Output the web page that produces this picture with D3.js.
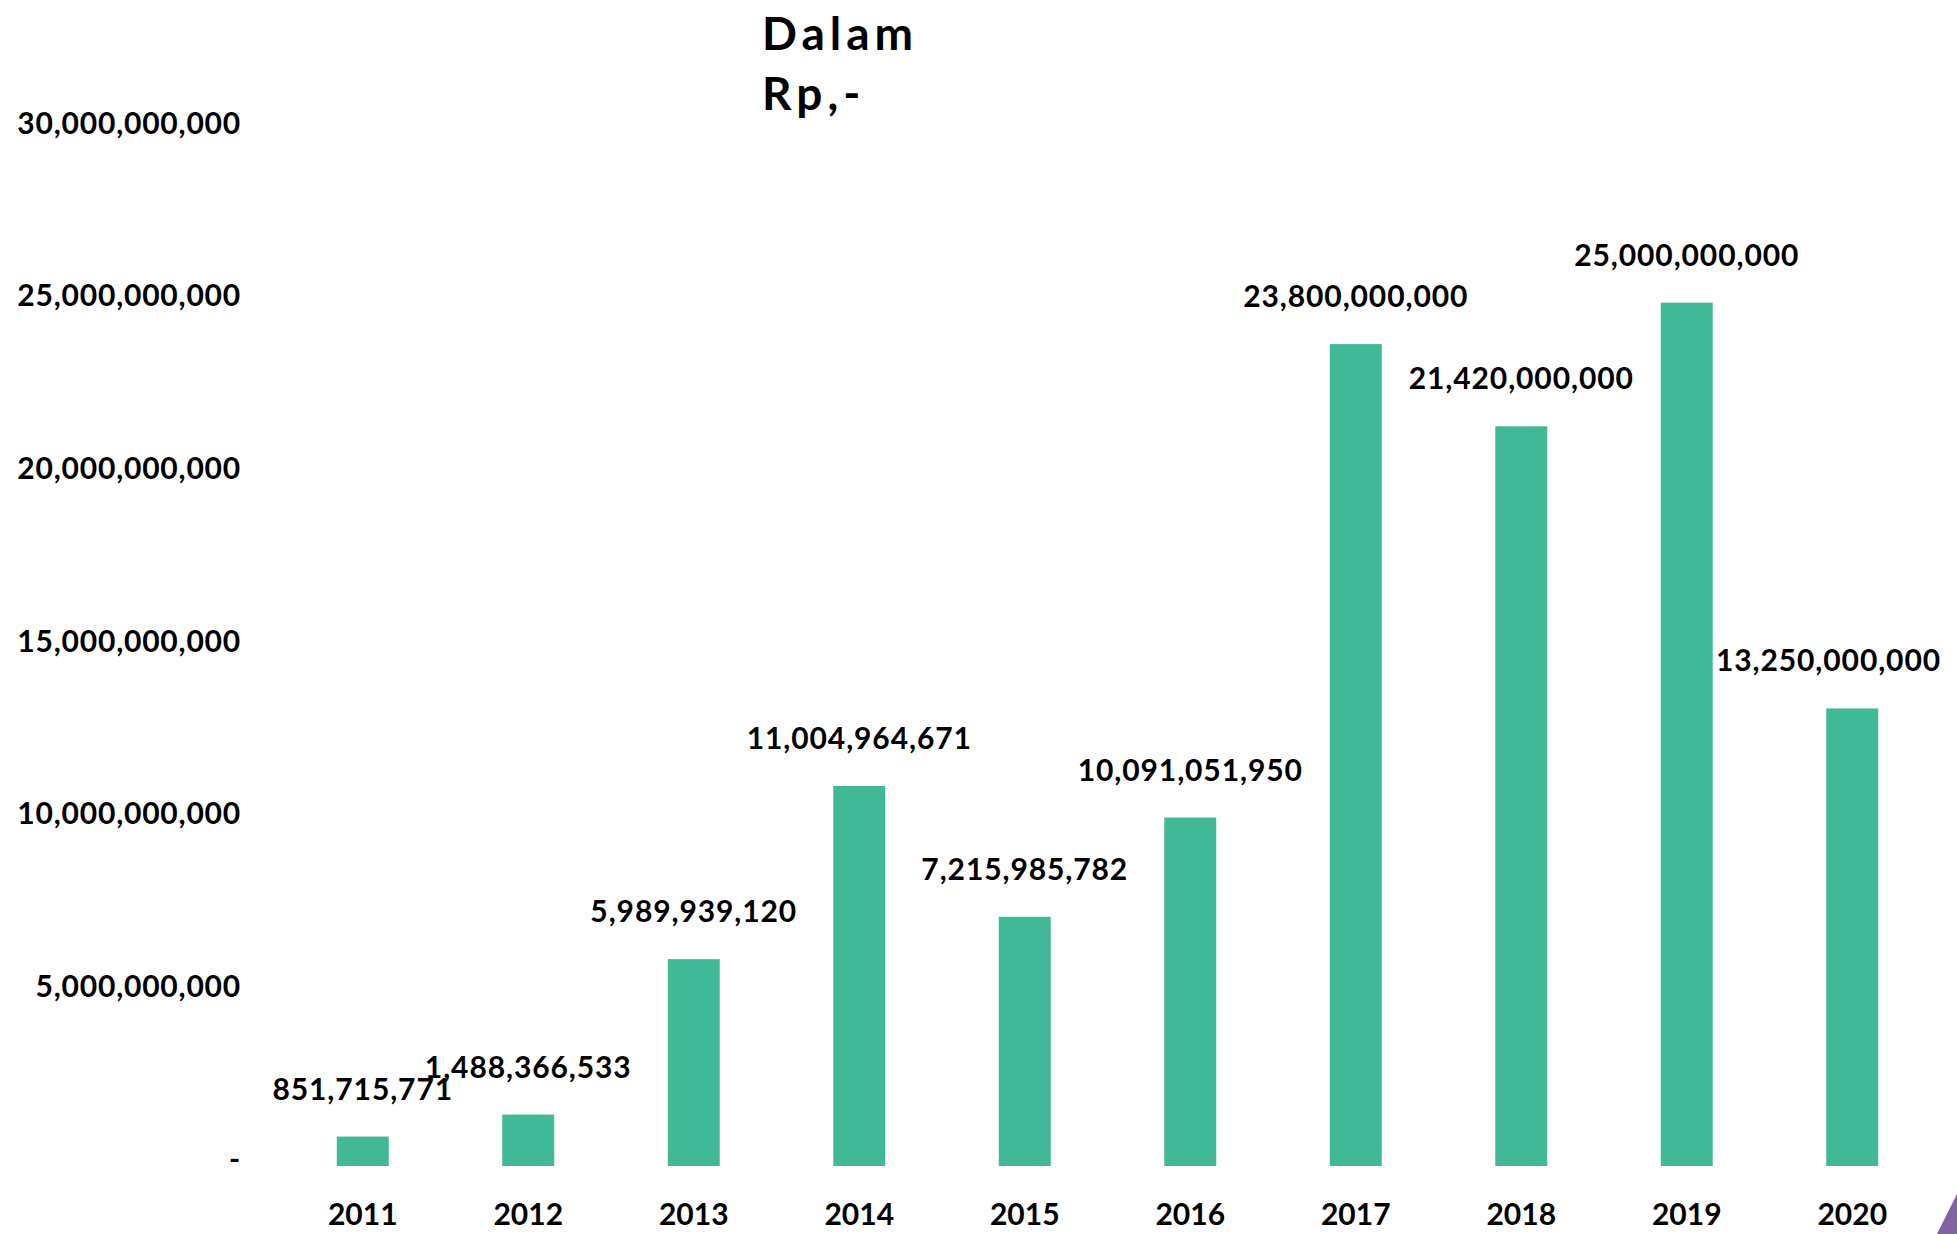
<!DOCTYPE html>
<html>
<head>
<meta charset="utf-8">
<script src="https://cdn.jsdelivr.net/npm/d3@7"></script>
<style>
  body { margin: 0; background: #fff; }
  text { font-family: Lato, "Open Sans", sans-serif; font-weight: bold; fill: #000; }
</style>
</head>
<body>
<div id="wrapper"></div>
<script>
// data
const years = ['2011', '2012', '2013', '2014', '2015', '2016', '2017', '2018', '2019', '2020']
const values = [851715771, 1488366533, 5989939120, 11004964671, 7215985782, 10091051950, 23800000000, 21420000000, 25000000000, 13250000000]
const yTicks = [0, 5e9, 10e9, 15e9, 20e9, 25e9, 30e9]
const titleLines = ['Dalam', 'Rp,-']

const barColor = '#42b996'
const formatNumber = d3.format(',')

const width = 1957
const height = 1234
const rightGap = 16

const svg = d3.select('#wrapper')
  .append('svg')
  .attr('width', width)
  .attr('height', height)

// scales
const x = d3.scaleBand()
  .domain(years)
  .range([280, 1935])
  .paddingInner(0.686)
  .paddingOuter(0.343)

const y = d3.scaleLinear()
  .domain([0, 30e9])
  .range([1166, 130])

const data = years.map((yr, i) => ({ year: yr, value: values[i] }))

// y axis (labels only)
const yAxis = svg.append('g')
  .attr('transform', 'translate(241,0)')
  .call(d3.axisLeft(y)
    .tickValues(yTicks)
    .tickSize(0)
    .tickPadding(0)
    .tickFormat(d => d === 0 ? '-' : formatNumber(d)))
yAxis.select('.domain').remove()
yAxis.selectAll('text')
  .attr('dy', 3)
  .style('font-size', '30px')
  .style('font-family', 'Lato, sans-serif')
  .style('letter-spacing', '0.8px')
  .attr('fill', '#000')

// bars
svg.selectAll('.bar')
  .data(data)
  .enter().append('rect')
  .attr('class', 'bar')
  .attr('x', d => x(d.year))
  .attr('width', x.bandwidth())
  .attr('y', d => y(d.value))
  .attr('height', d => y(0) - y(d.value))
  .attr('fill', barColor)

// value labels, kept inside the right edge
svg.selectAll('.value-label')
  .data(data)
  .enter().append('text')
  .attr('class', 'value-label')
  .attr('y', d => y(d.value) - 37)
  .attr('text-anchor', 'middle')
  .style('font-size', '30px')
  .style('letter-spacing', '0.9px')
  .text(d => formatNumber(d.value))
  .attr('x', function (d) {
    let cx = x(d.year) + x.bandwidth() / 2
    let half = this.getComputedTextLength() / 2
    return Math.min(cx, width - rightGap - half)
  })

// year labels
svg.selectAll('.year-label')
  .data(data)
  .enter().append('text')
  .attr('class', 'year-label')
  .attr('x', d => x(d.year) + x.bandwidth() / 2)
  .attr('y', 1225)
  .attr('text-anchor', 'middle')
  .style('font-size', '30px')
  .text(d => d.year)

// title
svg.append('text')
  .attr('x', 762)
  .attr('y', 50)
  .style('font-size', '46px')
  .style('letter-spacing', '5px')
  .selectAll('tspan')
  .data(titleLines)
  .enter().append('tspan')
  .attr('x', 762)
  .attr('dy', (d, i) => i === 0 ? 0 : 60)
  .text(d => d)

// corner decoration
svg.append('polygon')
  .attr('points', '1937,1234 1957,1194 1957,1234')
  .attr('fill', '#8064a2')
</script>
</body>
</html>
